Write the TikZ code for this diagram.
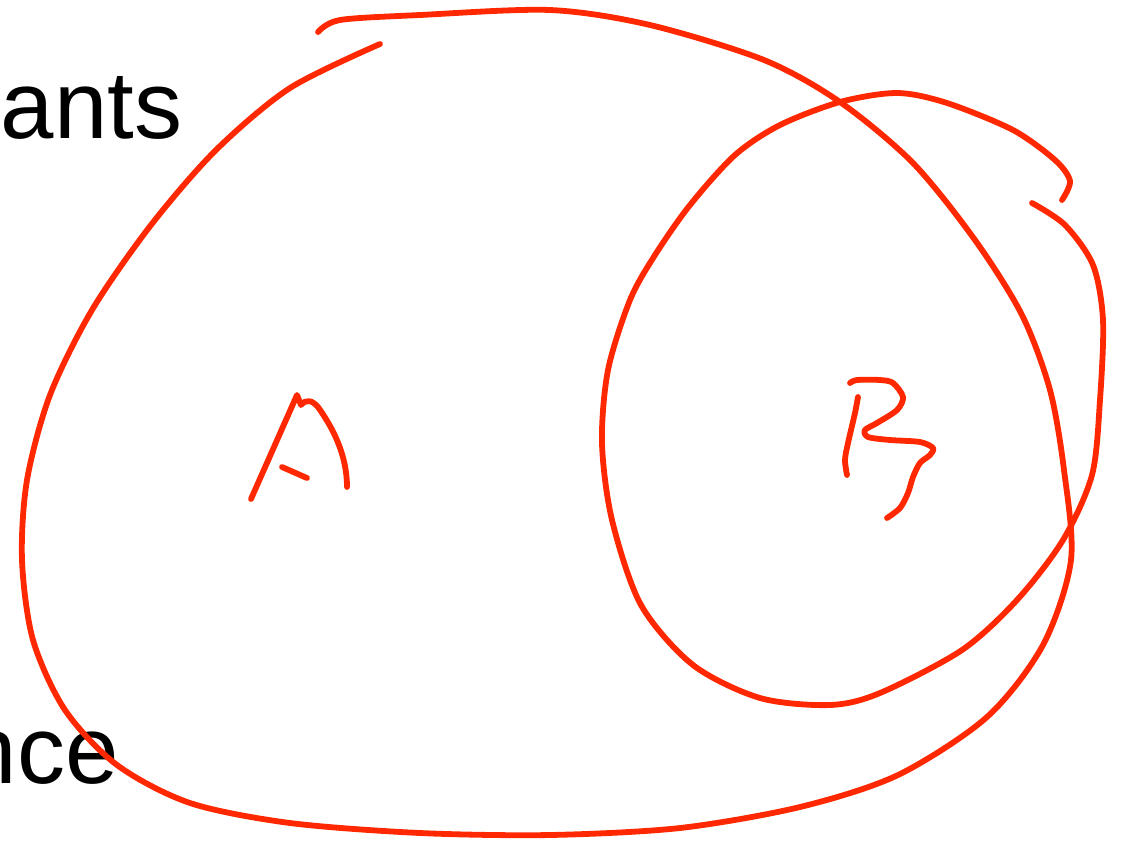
\documentclass[tikz,border=0pt]{standalone}
\usepackage{fontspec}
\setmainfont{Liberation Sans}
\definecolor{penred}{RGB}{255,40,0}
\tikzset{pen/.style={draw=penred,line width=1.65pt,line cap=round,line join=round},
 slide/.style={font=\fontsize{27.3}{33}\selectfont,inner sep=0pt,anchor=base west}}

\begin{document}
\begin{tikzpicture}[x=0.1mm,y=-0.1mm]
\useasboundingbox (0,0) rectangle (1124,850);
\clip (0,0) rectangle (1124,850);
\node[slide] (ants) at (0,138) {ants};
\node[slide] (nce) at (-37,783) {nce};
% set A
\draw[pen] plot[smooth] coordinates {(380,44) (290,88) (216,150) (151,225) (92,310)
 (50,395) (27,480) (22,560) (33,640) (65,710) (117,765) (190,803) (290,823)
 (420,833) (550,835) (680,828) (800,807) (898,775) (987,717) (1043,645) (1071,560)
 (1064,470) (1050,390) (1022,315) (975,240) (913,163) (840,102) (764,60) (650,25)
 (550,10) (420,15) (340,20) (318,32)};
% set B
\draw[pen] plot[smooth] coordinates {(1062,200) (1070,181) (1055,160) (1013,130)
 (947,103) (897,93) (840,102) (780,125) (735,155) (690,205) (655,255) (630,300)
 (608,370) (602,443) (612,520) (641,605) (693,665) (760,698) (830,705) (880,693)
 (962,650) (1017,600) (1063,540) (1092,475) (1100,400) (1103,320) (1093,265)
 (1065,225) (1032,203)};
% letter A
\draw[pen] (251,499) -- (297,395) -- (301,405) .. controls (306,399) and (312,400) ..
 (318,407) .. controls (333,428) and (347,455) .. (347,487);
\draw[pen] (282,467) -- (307,478);
% letter B
\draw[pen] plot[smooth] coordinates {(858,397) (855,413) (848,443) (845,460) (847,475)};
\draw[pen] plot[smooth] coordinates {(850,383) (857,380) (880,380) (893,383) (903,397)
 (897,410) (877,423) (865,430) (868,437) (890,440) (920,442) (933,448) (930,455)
 (920,463) (913,477) (908,493) (900,508) (887,518)};
\end{tikzpicture}
\end{document}
